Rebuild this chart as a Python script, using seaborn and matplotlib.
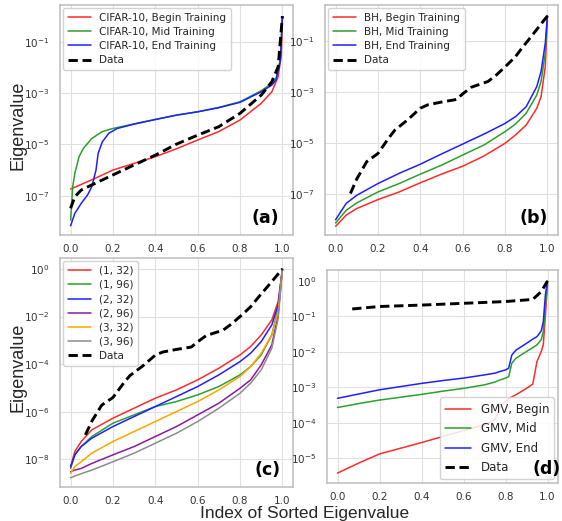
import numpy as np
import pandas as pd
import matplotlib
matplotlib.use("Agg")
import matplotlib.pyplot as plt
from matplotlib.ticker import FixedLocator, NullLocator, LogFormatterSciNotation
import seaborn as sns

# ---------------- data (log10 of eigenvalue) ----------------
# Panel (a) CIFAR-10
a_begin_x = [0.0, 0.1, 0.2, 0.3, 0.4, 0.5, 0.6, 0.7, 0.8, 0.9, 0.95, 0.98, 0.995, 1.0]
a_begin_y = [-6.74, -6.38, -6.0, -5.74, -5.48, -5.17, -4.83, -4.5, -4.05, -3.4, -2.95, -2.36, -1.5, -0.05]
a_mid_x = [0.0, 0.01, 0.02, 0.04, 0.06, 0.1, 0.15, 0.2, 0.25, 0.3, 0.4, 0.5, 0.6, 0.7, 0.8, 0.9, 0.95, 0.97, 0.99, 1.0]
a_mid_y = [-7.95, -6.65, -6.13, -5.48, -5.16, -4.77, -4.5, -4.38, -4.29, -4.2, -4.03, -3.86, -3.73, -3.56, -3.34, -2.91, -2.62, -2.43, -1.7, -0.05]
a_end_x = [0.0, 0.02, 0.05, 0.08, 0.1, 0.12, 0.13, 0.15, 0.18, 0.22, 0.3, 0.4, 0.5, 0.6, 0.7, 0.8, 0.9, 0.95, 0.97, 0.99, 1.0]
a_end_y = [-8.17, -7.69, -7.3, -6.97, -6.65, -6.0, -5.35, -4.9, -4.57, -4.38, -4.21, -4.03, -3.86, -3.73, -3.57, -3.36, -2.95, -2.69, -2.49, -1.75, -0.05]
a_data_x = [0.0, 0.02, 0.05, 0.1, 0.2, 0.3, 0.4, 0.5, 0.6, 0.7, 0.8, 0.9, 0.95, 0.98, 1.0]
a_data_y = [-7.49, -7.04, -6.78, -6.58, -6.19, -5.8, -5.42, -4.99, -4.64, -4.31, -3.79, -3.08, -2.56, -1.97, 0.0]

# Panel (b) BH
b_x = [0.0, 0.05, 0.1, 0.2, 0.3, 0.4, 0.5, 0.6, 0.7, 0.8, 0.85, 0.9, 0.95, 0.97, 0.99, 1.0]
b_begin_y = [-8.26, -7.82, -7.56, -7.21, -6.91, -6.55, -6.21, -5.9, -5.5, -5.0, -4.67, -4.28, -3.62, -3.17, -1.98, 0.0]
b_mid_y = [-8.13, -7.63, -7.34, -6.91, -6.58, -6.21, -5.86, -5.46, -5.07, -4.54, -4.24, -3.82, -3.1, -2.57, -1.46, 0.0]
b_end_y = [-8.0, -7.36, -7.04, -6.58, -6.18, -5.82, -5.42, -5.03, -4.64, -4.22, -3.95, -3.56, -2.77, -2.18, -1.07, 0.0]
data_x = [0.07, 0.1, 0.147, 0.2, 0.25, 0.28, 0.34, 0.4, 0.435, 0.5, 0.57, 0.6, 0.64, 0.72, 0.76, 0.81, 0.85, 0.88, 0.93, 0.98, 1.0]
data_y = [-6.97, -6.4, -5.72, -5.4, -4.8, -4.48, -4.08, -3.62, -3.49, -3.38, -3.28, -3.06, -2.8, -2.57, -2.31, -1.92, -1.59, -1.26, -0.74, -0.21, 0.0]

# Panel (c) architectures
c_labels = ["(1, 32)", "(1, 96)", "(2, 32)", "(2, 96)", "(3, 32)", "(3, 96)"]
c_colors = ["#ff2a2a", "#2ca02c", "#1f1fff", "#8b1a9e", "#ffa500", "#8c8c8c"]
c_x = [0.0, 0.02, 0.05, 0.1, 0.2, 0.3, 0.4, 0.5, 0.6, 0.7, 0.8, 0.85, 0.9, 0.95, 0.98, 1.0]
c_y = [
    [-8.31, -7.67, -7.25, -6.76, -6.27, -5.85, -5.43, -5.08, -4.66, -4.17, -3.61, -3.26, -2.77, -2.14, -1.37, 0.0],
    [-8.38, -7.81, -7.46, -7.04, -6.48, -6.13, -5.78, -5.57, -5.29, -4.94, -4.45, -4.1, -3.61, -2.77, -1.65, 0.0],
    [-8.31, -7.81, -7.46, -7.11, -6.62, -6.2, -5.78, -5.36, -4.94, -4.45, -3.89, -3.54, -3.05, -2.35, -1.51, 0.0],
    [-8.52, -8.45, -8.38, -8.17, -7.81, -7.46, -7.04, -6.62, -6.13, -5.64, -5.01, -4.66, -4.03, -3.19, -1.93, 0.0],
    [-8.59, -8.3, -8.1, -7.74, -7.25, -6.83, -6.41, -5.99, -5.57, -5.08, -4.52, -4.1, -3.54, -2.77, -1.79, 0.0],
    [-8.77, -8.7, -8.6, -8.45, -8.1, -7.74, -7.32, -6.9, -6.41, -5.85, -5.22, -4.8, -4.24, -3.33, -2.07, 0.0],
]

# Panel (d) GMV
d_x = [0.0, 0.1, 0.2, 0.3, 0.4, 0.5, 0.6, 0.7, 0.75, 0.77, 0.8, 0.815, 0.83, 0.85, 0.9, 0.93, 0.95, 0.97, 0.98, 0.99, 1.0]
d_begin_y = [-5.42, -5.14, -4.88, -4.72, -4.56, -4.39, -4.22, -4.06, -3.92, -3.59, -3.40, -3.33, -3.27, -3.21, -3.03, -2.91, -2.27, -1.99, -1.80, -0.96, -0.11]
d_mid_y = [-3.57, -3.46, -3.36, -3.28, -3.2, -3.11, -3.03, -2.93, -2.85, -2.8, -2.74, -2.70, -2.32, -2.18, -1.99, -1.88, -1.80, -1.66, -1.43, -0.68, -0.07]
d_end_y = [-3.31, -3.19, -3.07, -2.98, -2.89, -2.81, -2.74, -2.65, -2.6, -2.56, -2.51, -2.46, -2.09, -1.95, -1.76, -1.64, -1.57, -1.41, -1.15, -0.39, 0.0]
d_data_x = [0.07, 0.2, 0.4, 0.6, 0.8, 0.93, 0.97, 1.0]
d_data_y = [-0.79, -0.72, -0.68, -0.63, -0.58, -0.52, -0.3, 0.0]

# ---------------- figure ----------------
sns.set_theme(style="whitegrid")
plt.rcParams["font.family"] = ["DejaVu Sans"]
plt.rcParams["axes.edgecolor"] = "#bdbdbd"
plt.rcParams["axes.linewidth"] = 1.1
plt.rcParams["grid.color"] = "#e0e0e0"
plt.rcParams["grid.linewidth"] = 0.8

fig = plt.figure(figsize=(5.62, 5.21), dpi=100)
ax_a = fig.add_axes([60/562, 1-235/521, 233/562, 230/521])
ax_b = fig.add_axes([325/562, 1-235/521, 233/562, 230/521])
ax_c = fig.add_axes([60/562, 1-487/521, 233/562, 229/521])
ax_d = fig.add_axes([327/562, 1-483/521, 231/562, 213/521])

RED, GREEN, BLUE = "#ff2a2a", "#2ca02c", "#1f1fff"
LW = 1.1
DLW = 2.1


def line(ax, x, ylog, color, label, dashed=False):
    df = pd.DataFrame({"x": x, "y": np.power(10.0, ylog)})
    sns.lineplot(data=df, x="x", y="y", ax=ax, color=color, label=label,
                 linewidth=DLW if dashed else LW,
                 linestyle=(0, (3.2, 1.6)) if dashed else "-")


line(ax_a, a_begin_x, a_begin_y, RED, "CIFAR-10, Begin Training")
line(ax_a, a_mid_x, a_mid_y, GREEN, "CIFAR-10, Mid Training")
line(ax_a, a_end_x, a_end_y, BLUE, "CIFAR-10, End Training")
line(ax_a, a_data_x, a_data_y, "black", "Data", dashed=True)

line(ax_b, b_x, b_begin_y, RED, "BH, Begin Training")
line(ax_b, b_x, b_mid_y, GREEN, "BH, Mid Training")
line(ax_b, b_x, b_end_y, BLUE, "BH, End Training")
line(ax_b, data_x, data_y, "black", "Data", dashed=True)

for lab, col, ys in zip(c_labels, c_colors, c_y):
    line(ax_c, c_x, ys, col, lab)
line(ax_c, data_x, data_y, "black", "Data", dashed=True)

line(ax_d, d_x, d_begin_y, RED, "GMV, Begin")
line(ax_d, d_x, d_mid_y, GREEN, "GMV, Mid")
line(ax_d, d_x, d_end_y, BLUE, "GMV, End")
line(ax_d, d_data_x, d_data_y, "black", "Data", dashed=True)

setup = [
    (ax_a, (0.43, -8.53), [-1, -3, -5, -7], "upper left", "(a)", (0.94, 0.035), 7.5, 0.4),
    (ax_b, (0.43, -8.6), [-1, -3, -5, -7], "upper left", "(b)", (0.955, 0.035), 7.5, 0.4),
    (ax_c, (0.46, -9.16), [0, -2, -4, -6, -8], "upper left", "(c)", (0.945, 0.035), 7.5, 0.4),
    (ax_d, (0.31, -5.7), [0, -1, -2, -3, -4, -5], "lower right", "(d)", (1.01, 0.025), 8.5, 0.55),
]
for ax, (top, bot), ticks, loc, tag, tpos, lfs, lsp in setup:
    ax.set_yscale("log")
    ax.set_ylim(10 ** bot, 10 ** top)
    ax.set_xlim(-0.05, 1.05)
    ax.yaxis.set_major_locator(FixedLocator([10.0 ** t for t in ticks]))
    ax.yaxis.set_minor_locator(NullLocator())
    ax.yaxis.set_major_formatter(LogFormatterSciNotation())
    ax.set_xticks([0.0, 0.2, 0.4, 0.6, 0.8, 1.0])
    ax.set_xticklabels(["0.0", "0.2", "0.4", "0.6", "0.8", "1.0"])
    ax.tick_params(labelsize=7.5, pad=1.5, colors="#333333")
    ax.tick_params(axis="x", pad=0.8)
    ax.set_xlabel("")
    ax.set_ylabel("")
    ax.legend(loc=loc, fontsize=lfs, handlelength=2.2, borderpad=0.45,
              labelspacing=lsp, frameon=True, framealpha=0.85,
              borderaxespad=0.3)
    ax.text(tpos[0], tpos[1], tag, transform=ax.transAxes, ha="right", va="bottom",
            fontsize=12.5, fontweight="bold", color="black", zorder=10)

big = ["Liberation Sans", "DejaVu Sans"]
fig.text(18/562, 1-125/521, "Eigenvalue", rotation=90, ha="center", va="center",
         fontsize=13, family=big)
fig.text(18/562, 1-367/521, "Eigenvalue", rotation=90, ha="center", va="center",
         fontsize=13, family=big)
fig.text(305/562, 1-513.5/521, "Index of Sorted Eigenvalue", ha="center", va="center",
         fontsize=12.5, family=big)

fig.savefig("out.png", dpi=100)
